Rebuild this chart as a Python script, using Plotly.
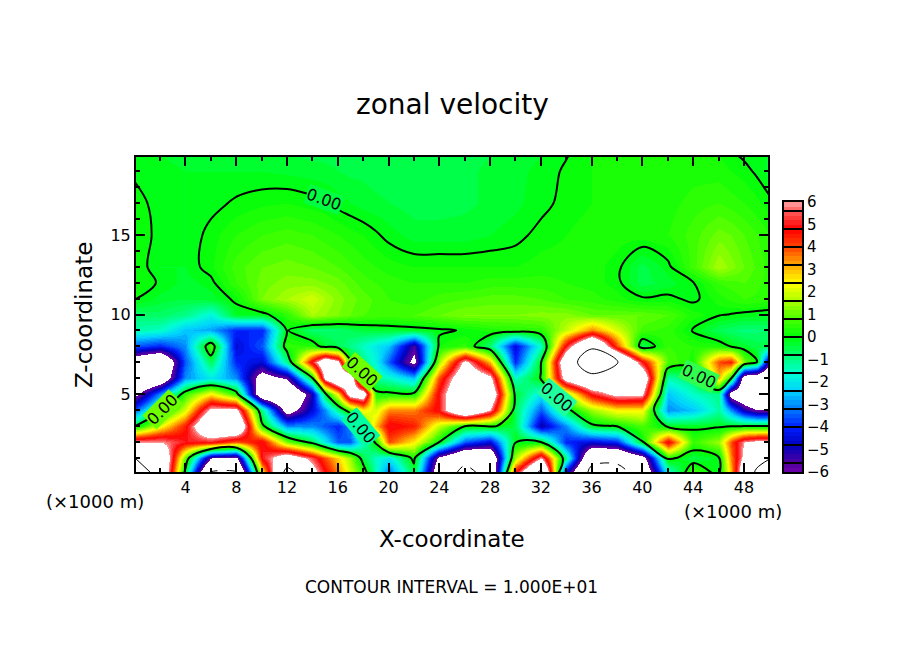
import plotly.graph_objects as go

x_km = [0,2,4,6,8,10,12,14, 15,16,17,18,19,20, 22,24,26,28,30,32,34,36,38,40,42,44,46, 47,48,49,50]
z_km = [20,19,17,15,13,12,11,10,9,8,7,6,5,4,3,2,1,0]

y20 = [-.1,-.2,-.25,-.3,-.3,-.35,-.4,-.45, -.45,-.45,-.5,-.5,-.5,-.5, -.55,-.55,-.5,-.4,-.3,-.2,-.02,.2,.3,.3,.3,.3,.2, .05,-.05,-.15,-.2]
y19 = [-.05,-.15,-.2,-.2,-.2,-.2,-.25,-.3, -.35,-.4,-.45,-.45,-.5,-.5, -.55,-.55,-.45,-.35,-.25,-.15,.05,.2,.2,.2,.2,.3,.3, .2,.1,-.05,-.3]
y17 = [.1,-.1,-.2,-.1,.05,.15,.2,.1, .05,-.1,-.2,-.3,-.35,-.4, -.5,-.5,-.45,-.35,-.25,-.1,.1,.2,.2,.3,.3,.5,.6, .5,.4,.25,.1]
y15 = [.2,-.1,-.2,.1,.4,.6,.7,.6, .5,.4,.3,.2,.05,-.1, -.3,-.3,-.3,-.2,-.1,.1,.2,.3,.3,.3,.4,.7,1.1, 1.0,.8,.6,.4]
y13 = [.2,-.2,-.2,.15,.7,1.0,1.1,1.0, .9,.8,.65,.5,.4,.3, .2,.2,.2,.2,.2,.3,.3,.3,.1,-.5,-.1,.7,1.6, 1.3,1.0,.75,.5]
y12 = [.1,-.02,-.3,-.1,.6,1.1,1.3,1.3, 1.2,1.1,.9,.7,.6,.5, .4,.4,.4,.5,.5,.5,.4,.3,.1,-.5,-.3,-.02,.6, .7,.8,.65,.5]
y11 = [.05,-.3,-.4,-.3,.1,1.2,1.6,2, 1.6,1.3,1.1,.9,.75,.6, .5,.7,.8,.9,.9,.8,.6,.5,.3,.05,.1,-.1,.3, .45,.6,.55,.5]
y10 = [-.8,-.7,-1,-1.8,-.2,-.2,.5,1.6, 1.4,1.2,1,.8,.75,.7, .8,1,1.2,1.2,1.2,1.3,1.3,1,1,1,.8,.3,.05, -.02,-.1,-.15,-.2]
y9 = [-1.3,-1.5,-2.5,-2.8,-4,-4,.05,-.8, -.8,-.8,-.6,-.4,-.35,-.3, -.2,-.1,.05,.3,.4,.5,1.8,3.5,2,.7,.5,-.05,-.6, -.75,-.9,-.85,-.8]
y8 = [-3.5,-4,-3,.8,-4.5,-3.5,.5,.4, -.3,-.6,-1,-1.5,-2,-2.5, -5.5,.2,.5,-.8,-4.5,-1.5,5,9.5,4,-.6,.6,.4,.3, -.05,-.3,-.5,-.5]
y7 = [-7.5,-9,-3.5,-.6,-4,-4.5,-1,5, 8,6.5,.2,-1,-1.8,-3.5, -6.5,1.5,6.5,3,-4,-.1,8,12.5,10.2,5,.8,.3,4, 4.5,1.2,.1,-5.5]
y6 = [-9,-8,-3,-2,-3,-7,-5.8,-.1, 6.5,9,8,.5,-1.2,-1.5, -2.5,4,8,6.5,-1.5,.05,7,9,8,8,-1.3,-.7,3, .1,-7.5,-8,-9]
y5 = [-6.5,-3,.6,2.5,.5,-8,-9,-5, -.3,2.5,7,7.5,.3,.2, .2,5,9,8,-.3,-2,1.5,5,6.5,6.3,-2.5,-1.5,-1, -7,-8,-9,-9]
y4 = [-3.5,-.5,2,6.5,6.5,-1,-7,-4.5, -3,-1,.8,2.5,2,3.5, 3.5,5,9,6,-.6,-3.5,-.3,1.5,2.5,2.5,-3,-2.5,-1.2, -3,-5,-6,-6]
y3 = [-.2,2.2,4.5,9,9,.3,-3,-3, -3.5,-4,-3,.5,3,5, 4.5,1.8,.1,.2,-.5,-5,-3,-.2,.1,.8,-.15,-.2,-.15, -.12,-.1,-.08,-.05]
y2 = [6,6,5,5,3.8,5,1.2,-.5, -2,-3.5,-3.5,-1.5,.2,4, 2.5,.05,-3.5,-4.5,-.1,-.1,-4,-4.5,-4,-.05,5,.6,1.5, 4,6,6.5,6.5]
y1 = [10,9,1,-6,-6.5,5,7.5,5.5, 4,2.8,1.5,-.5,-1.5,-2, .3,-6.5,-9,-8.5,1.5,6,-1,-9,-9,-7,.3,-.5,-.1, 3.5,6.5,9,9.8]
y0 = [12,9,-.5,-10.5,-10.5,2,11.5,7, 5,3.5,2,.7,-1.5,-3.5, -.5,-8,-11,-9,5,11,-5,-11,-11.5,-8.5,-2,1,-.3, 3,8,10.5,12]
z_rows = [y20,y19,y17,y15,y13,y12,y11,y10,y9,y8,y7,y6,y5,y4,y3,y2,y1,y0]

cmap_levels = [-6,-5.6,-4.8,-4.0,-3.2,-2.4,-1.6,-0.8,0,0.8,1.6,2.4,3.2,4.0,4.8,5.6,6]
cmap_colors = [(110,0,170),(80,0,160),(0,0,190),(0,30,255),(0,120,255),(0,210,255),(0,255,210),
               (0,255,110),(0,255,10),(70,255,0),(170,255,0),(255,255,0),(255,170,0),(255,70,0),
               (255,0,0),(255,90,90),(255,165,165)]
band = 0.2
range_lim = 6.2
def color_at(v):
    for i in range(len(cmap_levels)-1):
        a,b = cmap_levels[i],cmap_levels[i+1]
        if a <= v <= b:
            t=(v-a)/(b-a)
            c=[round(cmap_colors[i][k]+(cmap_colors[i+1][k]-cmap_colors[i][k])*t) for k in range(3)]
            return f"rgb({c[0]},{c[1]},{c[2]})"
    return "white"
def norm(v): return round((v+range_lim)/(2*range_lim),6)
n=60
scale=[[0,"white"],[norm(-6),"white"]]
for i in range(n):
    lo=-6+i*band; hi=-6+(i+1)*band
    col=color_at(lo+band/2)
    scale += [[norm(lo),col],[norm(hi),col]]
scale += [[norm(6),"white"],[1,"white"]]

W,H=904,654
OFF=8
def px(x): return (x-OFF)/W
def py(y): return 1-(y-OFF)/H
FONT="DejaVu Sans"

fig=go.Figure()
fig.add_trace(go.Heatmap(x=x_km,y=z_km,z=z_rows,zsmooth="best",zmin=-range_lim,zmax=range_lim,
                         colorscale=scale,showscale=False,hoverinfo="skip"))
fig.add_trace(go.Contour(x=x_km,y=z_km,z=z_rows,contours=dict(coloring="none",start=0,end=0,size=1),
                         line=dict(color="black",width=2),showscale=False,hoverinfo="skip"))
fig.add_trace(go.Contour(x=x_km,y=z_km,z=z_rows,contours=dict(coloring="none",start=10,end=10,size=1),
                         line=dict(color="black",width=1),showscale=False,hoverinfo="skip"))
fig.add_trace(go.Contour(x=x_km,y=z_km,z=z_rows,contours=dict(coloring="none",start=-10,end=-10,size=1),
                         line=dict(color="black",width=1,dash="dash"),showscale=False,hoverinfo="skip"))

# colour key
cb_y=[-6+band*(i+0.5) for i in range(n)]
fig.add_trace(go.Heatmap(x=[0,1],y=cb_y,z=[[v,v] for v in cb_y],zmin=-range_lim,zmax=range_lim,
                         colorscale=scale,showscale=False,xaxis="x2",yaxis="y2",hoverinfo="skip"))
cb_edges=[-5.6,-4.8,-4.0,-3.2,-2.4,-1.6,-0.8,0,0.8,1.6,2.4,3.2,4.0,4.8,5.6]
lx=[];ly=[]
for e in cb_edges:
    lx+=[0,1,None]; ly+=[e,e,None]
fig.add_trace(go.Scatter(x=lx,y=ly,mode="lines",line=dict(color="black",width=2),xaxis="x2",yaxis="y2",
                         showlegend=False,hoverinfo="skip"))

axis_common=dict(showgrid=False,zeroline=False,showline=True,linecolor="black",linewidth=2,mirror="allticks",automargin=False,
                 ticks="inside",ticklen=9,tickwidth=2,tickcolor="black",tickfont=dict(family=FONT,size=16,color="black"))
fig.update_layout(template="none",width=W,height=H,margin=dict(l=0,r=0,t=0,b=0,pad=0),paper_bgcolor="white",plot_bgcolor="white",
    showlegend=False,
    xaxis=dict(domain=[px(136),px(768)],range=[0.1,49.9],tickvals=[4,8,12,16,20,24,28,32,36,40,44,48],
               minor=dict(ticks="inside",dtick=2,ticklen=4,tickwidth=2,tickcolor="black"),**axis_common),
    yaxis=dict(domain=[py(472),py(157)],range=[0.1,19.9],tickvals=[5,10,15],
               minor=dict(ticks="inside",dtick=1,ticklen=4,tickwidth=2,tickcolor="black"),**axis_common),
    xaxis2=dict(domain=[px(784),px(802)],range=[0,1],showticklabels=False,ticks="",showline=True,mirror=True,automargin=False,
                linecolor="black",linewidth=2,showgrid=False,zeroline=False,anchor="y2"),
    yaxis2=dict(domain=[py(472),py(202)],range=[-6,6],side="right",anchor="x2",tickvals=list(range(-6,7)),ticks="",automargin=False,
                showline=True,mirror=True,linecolor="black",linewidth=2,showgrid=False,zeroline=False,
                tickfont=dict(family=FONT,size=15,color="black")))

def label(text,x,y,size,angle=0):
    fig.add_annotation(text=text,x=px(x),y=py(y),xref="paper",yref="paper",showarrow=False,textangle=angle,
                       font=dict(family=FONT,size=size,color="black"),xanchor="center",yanchor="middle")
label("zonal velocity",452,104,28)
label("X-coordinate",452,539,23)
label("Z-coordinate",84,315,23,-90)
label("(×1000 m)",95,501,18)
label("(×1000 m)",733,511,18)
label("CONTOUR INTERVAL = 1.000E+01",451,587,17)

zero_x=[14.9,17.9,17.8,2.2,33.3,44.5]
zero_y=[17.2,6.4,2.9,4.0,4.8,6.1]
zero_a=[20,42,50,-45,40,25]
zero_bg=["#00ff40","#70ff00","#00ffa0","#70ff00","#20ffa0","#30ff50"]
for xv,yv,a,bg in zip(zero_x,zero_y,zero_a,zero_bg):
    fig.add_annotation(text="0.00",x=xv,y=yv,xref="x",yref="y",showarrow=False,textangle=a,bgcolor=bg,borderpad=0,
                       font=dict(family=FONT,size=16,color="black"))

fig.write_html("out.html")
